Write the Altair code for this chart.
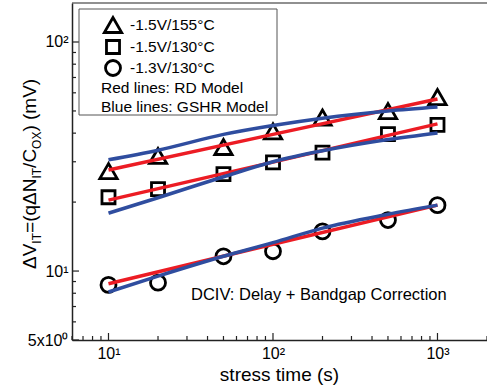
import altair as alt
import pandas as pd

# ---- data ----
times = [10, 20, 50, 100, 200, 500, 1000]
tri_data = [27.3, 31.8, 34.8, 40.7, 46.8, 49.9, 57.5]   # -1.5V/155C
sq_data = [21.0, 22.8, 26.5, 29.8, 32.9, 39.6, 43.5]    # -1.5V/130C
cir_data = [8.7, 8.9, 11.6, 12.2, 14.9, 16.7, 19.4]     # -1.3V/130C

rd_times = [10, 100, 1000]
rd_tri = [27.6, 39.5, 56.4]
rd_sq = [20.4, 29.9, 43.9]
rd_cir = [8.8, 13.1, 19.4]

gshr_times = [10, 20, 50, 100, 200, 500, 1000]
gshr_tri = [30.6, 33.7, 39.5, 43.2, 46.5, 50.0, 52.0]
gshr_sq = [17.9, 20.9, 25.8, 30.0, 33.5, 37.5, 40.1]
gshr_cir = [8.1, 9.5, 11.6, 13.3, 15.4, 17.7, 19.4]

x_tick_values = [10, 100, 1000]
x_tick_labels = ["10\u00b9", "10\u00b2", "10\u00b3"]
x_minor_ticks = [6, 7, 8, 9, 20, 30, 40, 50, 60, 70, 80, 90,
                 200, 300, 400, 500, 600, 700, 800, 900, 2000]
y_tick_values = [5, 10, 100]
y_tick_labels = ["5x10\u2070", "10\u00b9", "10\u00b2"]
y_minor_ticks = [6, 7, 8, 9, 20, 30, 40, 50, 60, 70, 80, 90]

legend_labels = ["-1.5V/155\u00b0C", "-1.5V/130\u00b0C", "-1.3V/130\u00b0C"]
legend_notes = ["Red lines: RD Model", "Blue lines: GSHR Model"]
annotation = "DCIV: Delay + Bandgap Correction"
x_title = "stress time (s)"

FONT = "Liberation Sans"
W, H = 415, 337
RED = "#ec1c24"
BLUE = "#2f4d9f"

def label_expr(vals, labs):
    parts = []
    for v, l in zip(vals, labs):
        parts.append(f"datum.value == {v} ? '{l}' : ")
    return "".join(parts) + "''"

xs = alt.Scale(type="log", domain=[6, 2000])
ys = alt.Scale(type="log", domain=[5, 148])
xaxis = alt.Axis(values=x_tick_values, labelExpr=label_expr(x_tick_values, x_tick_labels),
                 ticks=False, grid=False, title=None, labelFont=FONT, labelFontSize=16,
                 labelColor="black", labelPadding=5, domainColor="#222", domainWidth=1.5,
                 labelFlush=False, labelOverlap=False)
yaxis = alt.Axis(values=y_tick_values, labelExpr=label_expr(y_tick_values, y_tick_labels),
                 ticks=False, grid=False, title=None, labelFont=FONT, labelFontSize=16,
                 labelColor="black", labelPadding=4, domainColor="#222", domainWidth=1.5,
                 labelFlush=False, labelOverlap=False)

def X(f):
    return alt.X(f"{f}:Q", scale=xs, axis=xaxis)

def Y(f):
    return alt.Y(f"{f}:Q", scale=ys, axis=yaxis)

df_pts = pd.DataFrame({"t": times, "tri": tri_data, "sq": sq_data, "cir": cir_data})
df_rd = pd.DataFrame({"t": rd_times, "tri": rd_tri, "sq": rd_sq, "cir": rd_cir})
df_gs = pd.DataFrame({"t": gshr_times, "tri": gshr_tri, "sq": gshr_sq, "cir": gshr_cir})
one = pd.DataFrame({"a": [0]})

layers = []

# data markers
marker_specs = [("tri", "triangle-up", 300), ("sq", "square", 170), ("cir", "circle", 225)]
for f, shape, size in marker_specs:
    layers.append(alt.Chart(df_pts).mark_point(shape=shape, size=size, filled=False,
                                               stroke="black", strokeWidth=2.8, opacity=1)
                  .encode(x=X("t"), y=Y(f)))

# model lines
for f in ["tri", "sq", "cir"]:
    layers.append(alt.Chart(df_rd).mark_line(color=RED, strokeWidth=3.5)
                  .encode(x=X("t"), y=Y(f)))
    layers.append(alt.Chart(df_gs).mark_line(color=BLUE, strokeWidth=3.5, interpolate="monotone")
                  .encode(x=X("t"), y=Y(f)))

# inward ticks
df_xmaj = pd.DataFrame({"t": x_tick_values})
df_xmin = pd.DataFrame({"t": x_minor_ticks})
df_ymaj = pd.DataFrame({"v": y_tick_values})
df_ymin = pd.DataFrame({"v": y_minor_ticks})
layers.append(alt.Chart(df_xmaj).mark_rule(color="#222", strokeWidth=1.2)
              .encode(x=X("t"), y=alt.value(H), y2=alt.value(H - 7)))
layers.append(alt.Chart(df_xmin).mark_rule(color="#222", strokeWidth=1.2)
              .encode(x=X("t"), y=alt.value(H), y2=alt.value(H - 4)))
layers.append(alt.Chart(df_ymaj).mark_rule(color="#222", strokeWidth=1.2)
              .encode(y=Y("v"), x=alt.value(0), x2=alt.value(7)))
layers.append(alt.Chart(df_ymin).mark_rule(color="#222", strokeWidth=1.2)
              .encode(y=Y("v"), x=alt.value(0), x2=alt.value(4)))

# top frame line
layers.append(alt.Chart(one).mark_rule(color="#222", strokeWidth=1.2)
              .encode(x=alt.value(0), x2=alt.value(W), y=alt.value(0)))

# legend box
layers.append(alt.Chart(one).mark_rect(fill="white", stroke="#555", strokeWidth=1)
              .encode(x=alt.value(7), x2=alt.value(205), y=alt.value(6), y2=alt.value(112)))
leg_y = [22, 44, 65]
for (f, shape, size), ly, lab in zip(marker_specs, leg_y, legend_labels):
    layers.append(alt.Chart(one).mark_point(shape=shape, size=size, filled=False,
                                            stroke="black", strokeWidth=2.8, opacity=1)
                  .encode(x=alt.value(41), y=alt.value(ly)))
    layers.append(alt.Chart(one).mark_text(text=lab, font=FONT, fontSize=15.5, align="left",
                                           baseline="middle", color="black")
                  .encode(x=alt.value(58), y=alt.value(ly)))
for ly, lab in zip([85, 104], legend_notes):
    layers.append(alt.Chart(one).mark_text(text=lab, font=FONT, fontSize=15.5, align="left",
                                           baseline="middle", color="black")
                  .encode(x=alt.value(29), y=alt.value(ly)))

# annotation
layers.append(alt.Chart(one).mark_text(text=annotation, font=FONT, fontSize=16.5, align="left",
                                       baseline="middle", color="black")
              .encode(x=alt.value(119), y=alt.value(292)))

# x title
layers.append(alt.Chart(one).mark_text(text=x_title, font=FONT, fontSize=19, align="center",
                                       baseline="alphabetic", color="black")
              .encode(x=alt.value(W / 2), y=alt.value(378)))

# y title with subscripts (rotated)
adv = {"\u0394": 0.668, "V": 0.667, "I": 0.278, "T": 0.611, "=": 0.584, "(": 0.333,
       "q": 0.556, "N": 0.722, "/": 0.278, "C": 0.722, "O": 0.778, "X": 0.667,
       ")": 0.333, " ": 0.278, "m": 0.833}
pieces = [("\u0394V", False), ("IT", True), ("=(q\u0394N", False), ("IT", True),
          ("/C", False), ("OX", True), (") (mV)", False)]
main_fs, sub_fs = 19, 12
pos = 266.0
for txt, sub in pieces:
    fs = sub_fs if sub else main_fs
    layers.append(alt.Chart(one).mark_text(text=txt, font=FONT, fontSize=fs, angle=270,
                                           align="left", baseline="alphabetic", color="black")
                  .encode(x=alt.value(-31 if sub else -36), y=alt.value(pos)))
    pos -= sum(adv.get(c, 0.6) for c in txt) * fs

chart = alt.layer(*layers).properties(
    width=W, height=H,
    padding={"left": 72, "top": 3, "right": 0, "bottom": 45},
    autosize="none",
).configure_view(stroke="transparent")

chart.save("out.html", embed_options={"renderer": "svg", "actions": False})
